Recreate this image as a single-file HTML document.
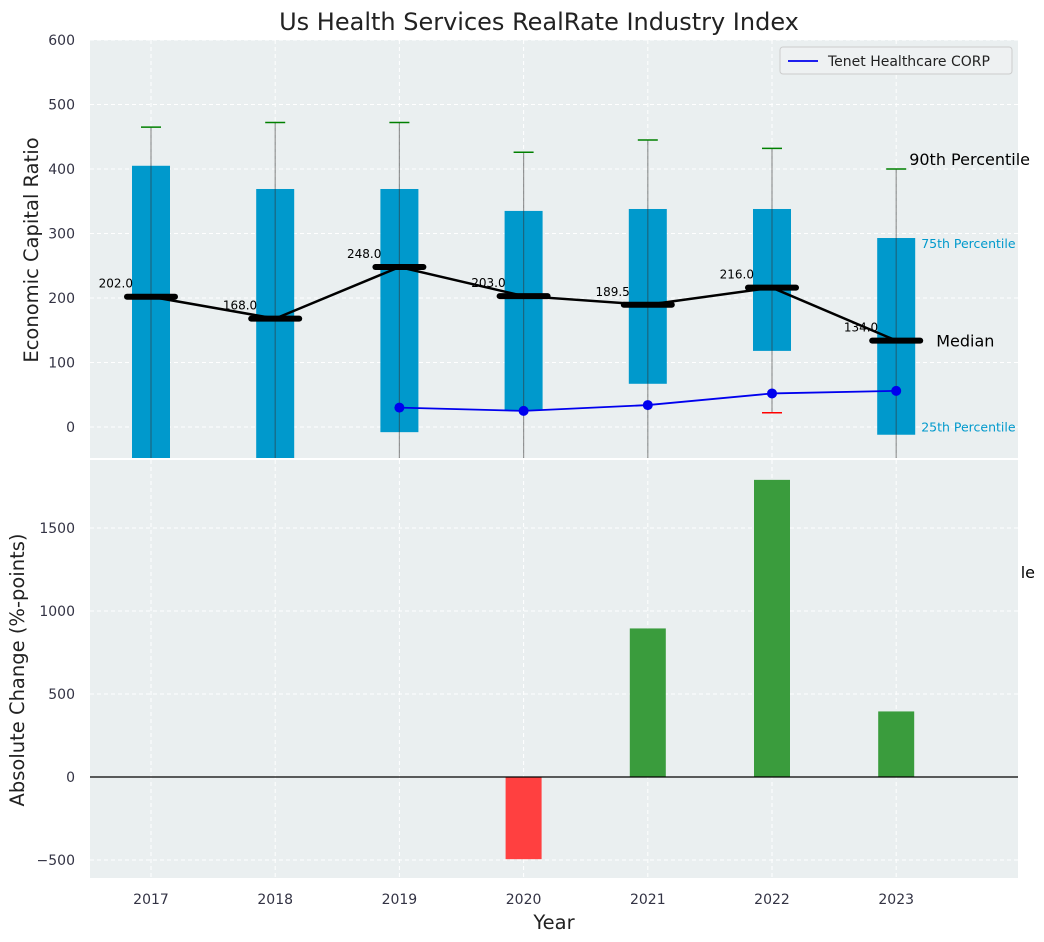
<!DOCTYPE html>
<html><head><meta charset="utf-8"><style>
body{margin:0;background:#fff;}
svg{display:block;font-family:"DejaVu Sans","Liberation Sans",sans-serif;}
</style></head><body>
<svg id="c" width="1044" height="942" xmlns="http://www.w3.org/2000/svg"></svg>
<script>
const years=['2017','2018','2019','2020','2021','2022','2023'];
const p90=[465,472,472,426,445,432,400];
const p75=[405,369,369,335,338,338,293];
const p25=[-80,-80,-8,26,67,118,-12];
const p10=[-200,-200,-200,-200,-200,22,-200];
const medians=[202.0,168.0,248.0,203.0,189.5,216.0,134.0];
const tenetYears=[2,3,4,5,6];
const tenetVals=[30,25,34,52,56];
const changeVals=[0,0,0,-495,895,1790,395];
const topTicks=[0,100,200,300,400,500,600];
const botTicks=[-500,0,500,1000,1500];

const NS='http://www.w3.org/2000/svg';
const svg=document.getElementById('c');
function el(t,a,p){const e=document.createElementNS(NS,t);for(const k in a)e.setAttribute(k,a[k]);(p||svg).appendChild(e);return e;}
const X0=90,X1=1018;
const xs=i=>151+i*124.2;
const T0=40,T1=458,yT=v=>427-v*0.645;
const B0=460,B1=878,yB=v=>777-v*0.166;

el('text',{x:539,y:30,'font-size':24,'text-anchor':'middle',fill:'#222'}).textContent='Us Health Services RealRate Industry Index';
const topG=el('g',{});


el('rect',{x:X0,y:T0,width:X1-X0,height:T1-T0,fill:'#eaeff0'},topG);
const botG=el('g',{});


el('rect',{x:X0,y:B0,width:X1-X0,height:B1-B0,fill:'#eaeff0'},botG);
const clip=el('clipPath',{id:'ct'});
el('rect',{x:X0,y:T0,width:X1-X0,height:T1-T0},clip);
years.forEach((y,i)=>{
 el('line',{x1:xs(i),x2:xs(i),y1:T0,y2:T1,stroke:'#fff','stroke-dasharray':'4,3'},topG);
 el('line',{x1:xs(i),x2:xs(i),y1:B0,y2:B1,stroke:'#fff','stroke-dasharray':'4,3'},botG);
 const t=el('text',{x:xs(i),y:904,'font-size':14,'text-anchor':'middle',fill:'#334'});t.textContent=y;
 
 
});
topTicks.forEach(v=>{
 el('line',{x1:X0,x2:X1,y1:yT(v),y2:yT(v),stroke:'#fff','stroke-dasharray':'4,3'},topG);
 const t=el('text',{x:75,y:yT(v)+5,'font-size':14,'text-anchor':'end',fill:'#334'});t.textContent=v;
 
 
});
botTicks.forEach(v=>{
 el('line',{x1:X0,x2:X1,y1:yB(v),y2:yB(v),stroke:'#fff','stroke-dasharray':'4,3'},botG);
 const t=el('text',{x:75,y:yB(v)+5,'font-size':14,'text-anchor':'end',fill:'#334'});t.textContent=(v<0?'\u2212'+(-v):v);
 
 
});
const g=el('g',{'clip-path':'url(#ct)'});
years.forEach((y,i)=>{
 const x=xs(i);
 const b=el('rect',{x:x-19,y:yT(p75[i]),width:38,height:yT(p25[i])-yT(p75[i]),fill:'#0099cc'},g);
 
 
 el('line',{x1:x,x2:x,y1:yT(p90[i]),y2:yT(p10[i]),stroke:'#333','stroke-opacity':0.5,'stroke-width':1.2},g);
 el('line',{x1:x-10,x2:x+10,y1:yT(p90[i]),y2:yT(p90[i]),stroke:'green','stroke-width':1.5},g);
 el('line',{x1:x-10,x2:x+10,y1:yT(p10[i]),y2:yT(p10[i]),stroke:'red','stroke-width':1.5},g);
});
const ml=el('polyline',{points:medians.map((m,i)=>xs(i)+','+yT(m)).join(' '),fill:'none',stroke:'#000','stroke-width':2.5},g);


medians.forEach((m,i)=>{
 const l=el('line',{x1:xs(i)-24,x2:xs(i)+24,y1:yT(m),y2:yT(m),stroke:'#000','stroke-width':6,'stroke-linecap':'round'},g);
 
 
 el('text',{x:xs(i)-18,y:yT(m)-9,'font-size':12,'text-anchor':'end',fill:'#000'},g).textContent=m.toFixed(1);
});
const tl=el('polyline',{points:tenetYears.map((k,j)=>xs(k)+','+yT(tenetVals[j])).join(' '),fill:'none',stroke:'#0000ee','stroke-width':1.8},g);


tenetYears.forEach((k,j)=>{const c=el('circle',{cx:xs(k),cy:yT(tenetVals[j]),r:5,fill:'#0000ee'},g);
 
 });
const lx=xs(6);
el('text',{x:lx+13,y:yT(p90[6])-4,'font-size':16,fill:'#000'}).textContent='90th Percentile';
el('text',{x:lx+25,y:yT(p75[6])+10,'font-size':12.5,fill:'#0099cc'}).textContent='75th Percentile';
el('text',{x:lx+40,y:yT(medians[6])+6,'font-size':16,fill:'#000'}).textContent='Median';
el('text',{x:lx+25,y:yT(p25[6])-3,'font-size':12.5,fill:'#0099cc'}).textContent='25th Percentile';
el('text',{x:1035,y:578,'font-size':16,fill:'#000','text-anchor':'end'}).textContent='le';
const lg=el('g',{});


el('rect',{x:780,y:47,width:232,height:27,rx:3,fill:'#eef1f2',stroke:'#ccc'},lg);
el('line',{x1:788,x2:818,y1:61,y2:61,stroke:'#0000ee','stroke-width':1.8},lg);
el('text',{x:828,y:66,'font-size':14,fill:'#222'},lg).textContent='Tenet Healthcare CORP';
changeVals.forEach((v,i)=>{if(!v)return;
 const r=el('rect',{x:xs(i)-18,y:Math.min(yB(v),yB(0)),width:36,height:Math.abs(yB(v)-yB(0)),fill:v<0?'#ff4040':'#3a9c3d'},botG);
 
 });
el('line',{x1:X0,x2:X1,y1:yB(0),y2:yB(0),stroke:'#000','stroke-width':1.2},botG);
el('text',{x:38,y:250,'font-size':19.5,fill:'#222','text-anchor':'middle',transform:'rotate(-90 38 250)'}).textContent='Economic Capital Ratio';
el('text',{x:24,y:670,'font-size':19.5,fill:'#222','text-anchor':'middle',transform:'rotate(-90 24 670)'}).textContent='Absolute Change (%-points)';
el('text',{x:554,y:929,'font-size':19.5,fill:'#222','text-anchor':'middle'}).textContent='Year';
</script>
</body></html>
